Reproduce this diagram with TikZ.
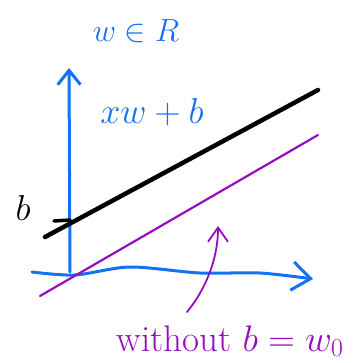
\RequirePackage{fix-cm}
\documentclass[tikz,border=0pt]{standalone}
\usepackage{amsmath,amssymb}
\usetikzlibrary{arrows.meta,positioning}
\definecolor{penblue}{RGB}{20,112,245}
\definecolor{penpurple}{RGB}{150,12,190}
\tikzset{
    axis/.style={penblue,line width=3pt,line cap=round,-{Straight Barb[length=5mm,width=8mm]}},
    fitline/.style={black,line width=4.5pt,line cap=round},
    plainline/.style={penpurple,line width=2.2pt,line cap=round},
    pointer/.style={penpurple,line width=1.8pt,line cap=round,-{Straight Barb[length=5mm,width=7mm]}},
    handtext/.style={inner sep=1pt,font=\fontsize{32}{32}\selectfont}
}
\begin{document}
\begin{tikzpicture}[x=1pt,y=-1pt]
    \useasboundingbox (0,0) rectangle (361,363);
    % axes
    \coordinate (O) at (70,272);
    \coordinate (ytop) at (69,68);
    \coordinate (xstart) at (32,272);
    \coordinate (xend) at (313,279);
    \draw[axis] (O) -- (ytop);
    \draw[axis,-{Straight Barb[length=6.5mm,width=10mm]}] plot[smooth] coordinates {(xstart) (75,275) (130,267) (200,273) (260,273) (xend)};
    % lines
    \coordinate (bl) at (45,237);
    \coordinate (br) at (318,90);
    \coordinate (pl) at (40,296);
    \coordinate (pr) at (318,135);
    \draw[fitline] (bl) -- (br);
    \draw[fitline,line width=3.5pt] (54,221) -- (70,220);
    \draw[plainline] (pl) -- (pr);
    % labels
    \node[handtext,penblue] (space) at (136,31) {$w \in R$};
    \node[handtext,penblue,font=\fontsize{36}{36}\selectfont] (model) at (152,112) {$xw+b$};
    \node[handtext,font=\fontsize{36}{36}\selectfont] (bias) at (23,208) {$b$};
    \node[handtext,penpurple,font=\fontsize{37}{37}\selectfont] (nob) at (230,341) {without $b = w_0$};
    % pointer
    \coordinate (tail) at (187,312);
    \coordinate (head) at (218,226);
    \draw[pointer] (tail) .. controls (205,290) and (218,260) .. (head);
\end{tikzpicture}
\end{document}
